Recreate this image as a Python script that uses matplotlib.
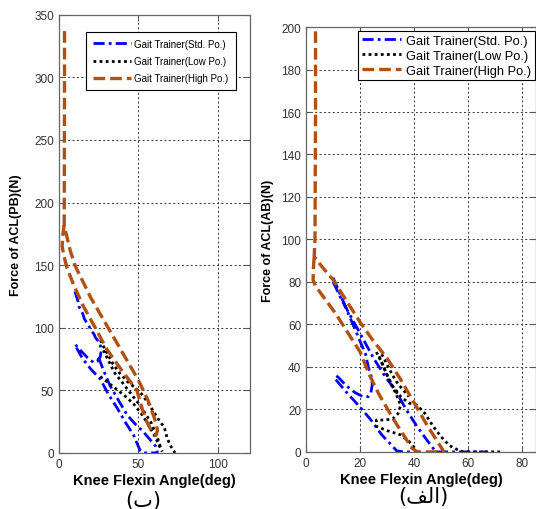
import numpy as np
import matplotlib
matplotlib.use("Agg")
import matplotlib.pyplot as plt

nan = np.nan

# ---- data (NaN splits the separate strokes of one series) ----
series_labels = ["Gait Trainer(Std. Po.)", "Gait Trainer(Low Po.)", "Gait Trainer(High Po.)"]

# left panel: Force of ACL(PB)
pb_std_x = [10, 11, 12, 12.5, 14, 15, 16, 17.5, 19, 20, 22, 23, 25, 26, 26.5, 26, 24, 22, 18, 15, 12, 10, nan,
            25, 28, 32, 37, 43, 48, 53, 57, 61, 62, nan,
            11, 15, 20, 26, 31, 37, 42, 47, 51, 53, 62]
pb_std_y = [129, 125, 121, 117, 114, 111, 107, 104, 101, 98, 95, 92, 89, 86, 81, 77, 73, 72, 76, 80, 84, 87, nan,
            76, 66, 54, 43, 30, 23, 17, 11, 5, 0, nan,
            84, 75, 67, 59, 47, 35, 24, 14, 2, 0, 0]

pb_low_x = [26, 28, 31, 34, 38, 43, 48, 52, 56, 60, 63, 66, 67, 68, 70, 73, nan,
            26, 29, 33, 37, 42, 47, 52, 56, 60, 63, 65, nan,
            28, 31, 35, 40, 46, 51, 55, 58, 62, 64]
pb_low_y = [90, 85, 78, 71, 64, 57, 52, 47, 40, 32, 26, 21, 17, 12, 6, 0, nan,
            61, 58, 54, 50, 45, 39, 31, 23, 14, 6, 1, nan,
            82, 74, 64, 56, 46, 38, 30, 24, 12, 4]

pb_high_x = [3.5, 3.5, 3.3, 4, 7, 10, 15, 20, 30, 40, 50, 56, 60, 62, 61, 58, 54, 49, 40, 30, 22.8,
             15, 9, 5, 3, 2, 2.5, 3.3]
pb_high_y = [337, 300, 182, 178, 162, 150, 137, 124, 102, 80, 58, 42, 28, 18, 14, 18, 28, 50, 65, 83, 100,
             118, 135, 148, 158, 165, 175, 182]

# right panel: Force of ACL(AB)
ab_std_x = [10, 12, 14, 16, 18, 20, 22, 23, 24, 24.5, 24, 23, 21, 18, 15, 12, 10, nan,
            10, 13, 16, 19, 22, 25, 29, 33, 37, 41, 45, 48, 57, 67, nan,
            11, 15, 20, 24, 28, 31, 33.5, 36, 42]
ab_std_y = [82, 76, 70, 64, 58, 52, 46, 40, 36, 32, 28, 26, 26, 28, 31, 35, 37, nan,
            80, 72, 65, 58, 51, 44, 36, 29, 20, 12, 5, 0, 0, 0, nan,
            34, 28, 21, 15, 8, 4, 0.5, 0, 0]

ab_low_x = [26, 28, 30, 32, 35, 38, 41, 44, 47, 50, 53, 56, 58, 65, 73, nan,
            27, 29, 31, 33, 35, 34, 32, 29, 26, 26, 30, 35, 38, 40, 41, nan,
            28, 30, 32, 34, 36, 38]
ab_low_y = [47, 42, 36, 31, 26, 23, 22, 18, 12, 7, 3, 1, 0, 0, 0, nan,
            45, 39, 33, 28, 22, 18, 15.5, 15, 15, 12, 10, 8, 5, 2, 0, nan,
            46, 41, 36, 32, 29, 26]

ab_high_x = [3.5, 3.5, 3.3, 3.0, 6, 10, 15, 20, 25, 30, 35, 40, 45, 49, 51, 47, 43, 41, 39, 36, 32, 27,
             23.5, 20, 16, 11, 7, 3.5, 2.6, 2.7, 3.0]
ab_high_y = [198, 160, 100, 92, 87, 81, 71, 61, 52, 44, 34, 23, 12, 4, 0, 0, 0, 0, 2, 8, 16, 27,
             36, 47, 55, 65, 72, 78, 81, 86, 92]

pb_xticks = [0, 50, 100]
pb_yticks = [0, 50, 100, 150, 200, 250, 300, 350]
ab_xticks = [0, 20, 40, 60, 80]
ab_yticks = [0, 20, 40, 60, 80, 100, 120, 140, 160, 180, 200]

plt.rcParams['font.family'] = ['Liberation Sans', 'DejaVu Sans']

blue = '#0000ff'
brown = '#b4500f'


def draw_panel(ax, std, low, high, xlim, ylim, xticks, yticks, ylabel, caption, cap_x):
    ax.plot(std[0], std[1], color=blue, lw=2.0, linestyle=(0, (4, 1.5, 1, 1.5)), label=series_labels[0])
    ax.plot(low[0], low[1], color='black', lw=2.0, linestyle=(0, (1, 1.2)), label=series_labels[1])
    ax.plot(high[0], high[1], color=brown, lw=2.4, linestyle=(0, (3.5, 1.5)), label=series_labels[2])
    ax.set_xlim(*xlim)
    ax.set_ylim(*ylim)
    ax.set_xticks(xticks)
    ax.set_yticks(yticks)
    ax.grid(True, color='#333333', linestyle=(0, (2, 2.5)), lw=0.7)
    ax.tick_params(direction='in', top=True, right=True, labelsize=8.5,
                   labelcolor='#333333', color='#555555', length=4)
    for s in ax.spines.values():
        s.set_color('#666666')
        s.set_linewidth(0.9)
    ax.set_ylabel(ylabel, fontsize=9, fontweight='bold')
    ax.set_xlabel("Knee Flexin Angle(deg)", fontsize=10.5, fontweight='bold', labelpad=2)
    # panel caption under the x label
    ax.text(cap_x, -0.105, caption, transform=ax.transAxes, ha='center', va='center',
            fontsize=15, family=['DejaVu Sans'])


fig = plt.figure(figsize=(5.36, 5.10), dpi=100)
ax1 = fig.add_axes([0.110, 0.110, 0.356, 0.859])
ax2 = fig.add_axes([0.571, 0.112, 0.429, 0.833])

draw_panel(ax1, (pb_std_x, pb_std_y), (pb_low_x, pb_low_y), (pb_high_x, pb_high_y),
           (0, 120), (0, 350), pb_xticks, pb_yticks, "Force of ACL(PB)(N)", "(\uFE8F)", 0.44)
draw_panel(ax2, (ab_std_x, ab_std_y), (ab_low_x, ab_low_y), (ab_high_x, ab_high_y),
           (0, 85), (0, 200), ab_xticks, ab_yticks, "Force of ACL(AB)(N)", "(\uFED2\uFEDF\uFE8D)", 0.51)

leg1 = ax1.legend(loc='upper left', bbox_to_anchor=(0.141, 0.961), fontsize=7, fancybox=False,
                  framealpha=1, edgecolor='black', borderpad=0.7, handlelength=3.9,
                  labelspacing=0.75, borderaxespad=0, handletextpad=0.4)
leg1.get_frame().set_linewidth(0.8)
leg2 = ax2.legend(loc='upper left', bbox_to_anchor=(0.226, 0.991), fontsize=9.3, fancybox=False,
                  framealpha=1, edgecolor='black', borderpad=0.3, handlelength=3.0,
                  labelspacing=0.22, borderaxespad=0, handletextpad=0.4)
leg2.get_frame().set_linewidth(0.8)

ax1.yaxis.set_label_coords(-0.195, 0.5)
ax2.yaxis.set_label_coords(-0.14, 0.5)

fig.savefig("out.png", dpi=100)
